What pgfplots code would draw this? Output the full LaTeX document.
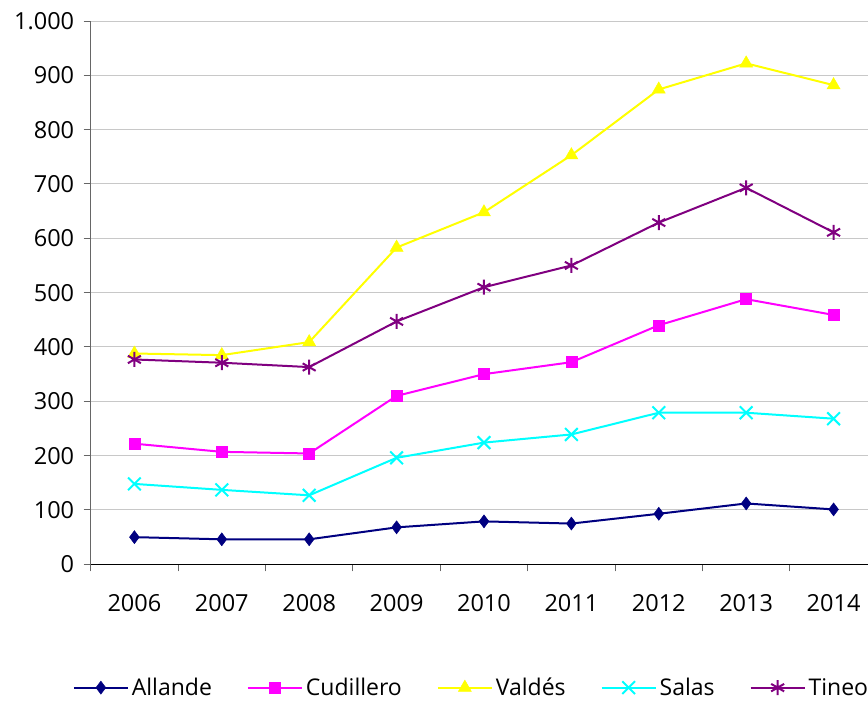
\documentclass[border=0pt]{standalone}
\usepackage{fontspec}
\setmainfont{Open Sans}
\usepackage{pgfplots}
\pgfplotsset{compat=1.18}
\definecolor{cAllande}{RGB}{0,0,128}
\definecolor{cCudillero}{RGB}{255,0,255}
\definecolor{cValdes}{RGB}{255,255,0}
\definecolor{cSalas}{RGB}{0,255,255}
\definecolor{cTineo}{RGB}{128,0,128}
\definecolor{gridgray}{RGB}{200,200,200}

\begin{document}
\begin{tikzpicture}
\begin{axis}[
  at={(90.7pt,-564.3pt)}, anchor=south west,
  scale only axis,
  width=777.3pt, height=543.3pt,
  xmin=-0.5, xmax=8.394,
  ymin=0, ymax=1000,
  axis lines*=left,
  x axis line style={draw=black, line width=1pt},
  y axis line style={draw=black!60, line width=1pt},
  xtick={0,...,8},
  xticklabels={2006,2007,2008,2009,2010,2011,2012,2013,2014},
  minor xtick={-0.5,0.5,...,8.5},
  major x tick style={draw=none},
  minor x tick style={draw=black!60, line width=1pt},
  minor tick length=7pt,
  ytick={0,100,...,1000},
  y tick style={draw=black!60, line width=1pt},
  major tick length=7pt,
  tick align=outside,
  ymajorgrids,
  grid style={gridgray, line width=1pt},
  /pgf/number format/1000 sep={.},
  /pgf/number format/assume math mode=true,
  tick label style={font=\fontsize{23.5}{28}\selectfont, text=black},
  xticklabel style={anchor=north, yshift=-20pt},
  yticklabel style={anchor=east, xshift=-6pt},
  legend columns=-1,
  legend style={
    at={(axis description cs:-0.0232,-0.2270)}, anchor=west,
    draw=none, fill=none, inner sep=0pt,
    font=\fontsize{23}{26}\selectfont,
    nodes={inner sep=3pt},
    /tikz/every even column/.append style={column sep=32pt},
  },
  legend image code/.code={
    \draw[mark repeat=2,mark phase=2] plot coordinates {(0pt,0pt) (27pt,0pt) (54pt,0pt)};
  },
  every axis plot/.append style={line width=2pt},
]
\addplot[cAllande, mark=diamond*, mark size=6.5pt, mark options={line width=0.5pt}]
  coordinates {(0,50) (1,46) (2,46) (3,68) (4,79) (5,75) (6,93) (7,112) (8,101)};
\addlegendentry{Allande}
\addplot[cCudillero, mark=square*, mark size=5.5pt, mark options={line width=0.5pt}]
  coordinates {(0,222) (1,207) (2,204) (3,310) (4,350) (5,372) (6,440) (7,488) (8,459)};
\addlegendentry{Cudillero}
\addplot[cValdes, mark=triangle*, mark size=7.5pt, mark options={line width=0.5pt}]
  coordinates {(0,388) (1,385) (2,409) (3,583) (4,648) (5,753) (6,874) (7,922) (8,882)};
\addlegendentry{Valdés}
\addplot[cSalas, mark=x, mark size=9pt, mark options={line width=2pt}]
  coordinates {(0,148) (1,137) (2,127) (3,196) (4,224) (5,239) (6,279) (7,279) (8,268)};
\addlegendentry{Salas}
\addplot[cTineo, mark=asterisk, mark size=7.5pt, mark options={line width=2pt}]
  coordinates {(0,377) (1,371) (2,363) (3,447) (4,510) (5,550) (6,629) (7,693) (8,611)};
\addlegendentry{Tineo}
\end{axis}
\pgfresetboundingbox
\path[use as bounding box] (0pt,0pt) rectangle (868pt,-701pt);
\end{tikzpicture}
\end{document}
